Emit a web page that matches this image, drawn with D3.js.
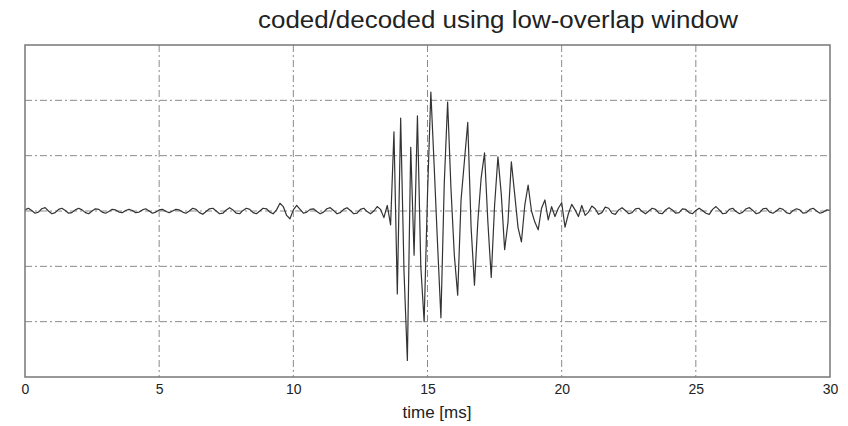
<!DOCTYPE html>
<html>
<head>
<meta charset="utf-8">
<script src="https://cdn.jsdelivr.net/npm/d3@7"></script>
<style>
  body { margin: 0; background: #fff; }
</style>
</head>
<body>
<div id="container"></div>
<script>
let dt = 0.125;
let signal = [
  0.02, 0.05, 0.01, -0.04, -0.02, 0.04, 0.06, 0.00,
  -0.05, -0.03, 0.03, 0.05, 0.01, -0.04, -0.03, 0.02,
  0.05, 0.02, -0.03, -0.05, 0.00, 0.04, 0.03, -0.02,
  -0.04, -0.01, 0.03, 0.02, -0.02, -0.03, 0.01, 0.03,
  0.01, -0.03, -0.02, 0.02, 0.04, 0.00, -0.04, -0.02,
  0.02, 0.03, -0.01, -0.03, 0.00, 0.03, 0.02, -0.02,
  -0.04, 0.00, 0.05, 0.03, -0.03, -0.06, -0.01, 0.04,
  0.05, 0.00, -0.05, -0.04, 0.02, 0.06, 0.02, -0.04,
  -0.05, 0.01, 0.05, 0.03, -0.03, -0.05, 0.00, 0.05,
  0.04, -0.02, -0.05, 0.02, 0.14, 0.08, -0.08, -0.14,
  0.02, 0.10, 0.03, -0.04, -0.02, 0.03, 0.04, -0.01,
  -0.05, -0.02, 0.04, 0.06, 0.01, -0.05, -0.03, 0.03,
  0.06, 0.01, -0.05, -0.04, 0.03, 0.05, -0.01, -0.05,
  0.00, 0.08, 0.03, -0.12, 0.10, -0.25, 1.43, -1.50,
  1.68, -1.10, -2.70, 1.15, -0.80, 1.72, -1.00, -2.00,
  0.30, 2.15, 0.80, -0.60, -1.93, 0.50, 1.97, 0.40,
  -0.80, -1.52, 0.20, 0.90, 1.60, -0.30, -1.34, -0.20,
  0.60, 1.05, -0.20, -1.20, 0.10, 0.98, 0.30, -0.70,
  -0.20, 0.89, 0.30, -0.30, -0.56, 0.10, 0.47, 0.00,
  -0.20, -0.34, 0.05, 0.20, -0.16, 0.08, -0.10, 0.05,
  0.15, -0.29, -0.05, 0.12, 0.02, -0.10, 0.10, -0.08,
  -0.02, 0.09, 0.04, -0.06, -0.03, 0.07, 0.05, -0.04,
  -0.06, 0.02, 0.06, 0.01, -0.05, -0.03, 0.04, 0.05,
  -0.01, -0.05, 0.00, 0.05, 0.03, -0.04, -0.05, 0.02,
  0.06, 0.02, -0.04, -0.03, 0.04, 0.03, -0.03, -0.05,
  0.01, 0.05, 0.01, -0.04, -0.06, 0.03, 0.08, 0.02,
  -0.05, -0.04, 0.03, 0.05, -0.01, -0.05, -0.02, 0.04,
  0.06, 0.01, -0.05, -0.03, 0.04, 0.05, -0.02, -0.04,
  0.00, 0.05, 0.03, -0.03, -0.05, 0.01, 0.04, 0.02,
  -0.04, -0.03, 0.03, 0.05, 0.00, -0.04, -0.02, 0.02,
  0.01
];
let xTicks = [0, 5, 10, 15, 20, 25, 30];
let yGrid = [-2, -1, 0, 1, 2];
let title = "coded/decoded using low-overlap window";
let xLabel = "time [ms]";

let w = 848;
let h = 426;
let padLeft = 25, padRight = 830, padTop = 45, padBottom = 377;

let viz = d3.select("#container")
  .append("svg")
    .attr("width", w)
    .attr("height", h)
    .style("font-family", "'Liberation Sans', Arial, sans-serif");

let xScale = d3.scaleLinear().domain([0, 30]).range([padLeft, padRight]);
let yScale = d3.scaleLinear().domain([-3, 3]).range([padBottom, padTop]);

// grid lines (dash-dot)
viz.append("g").selectAll("line")
  .data(xTicks.slice(1, -1))
  .join("line")
    .attr("x1", d => xScale(d)).attr("x2", d => xScale(d))
    .attr("y1", padTop).attr("y2", padBottom)
    .attr("stroke", "#8a8a8a")
    .attr("stroke-width", 1)
    .attr("stroke-dasharray", "7,3,2,3");

viz.append("g").selectAll("line")
  .data(yGrid)
  .join("line")
    .attr("x1", padLeft).attr("x2", padRight)
    .attr("y1", d => yScale(d)).attr("y2", d => yScale(d))
    .attr("stroke", "#8a8a8a")
    .attr("stroke-width", 1)
    .attr("stroke-dasharray", "7,3,2,3");

// the waveform
let line = d3.line()
  .x((d, i) => xScale(i * dt))
  .y(d => yScale(d));

viz.append("path")
  .datum(signal)
  .attr("d", line)
  .attr("fill", "none")
  .attr("stroke", "#333")
  .attr("stroke-width", 1.2)
  .attr("stroke-linejoin", "round");

// frame
viz.append("rect")
  .attr("x", padLeft).attr("y", padTop)
  .attr("width", padRight - padLeft).attr("height", padBottom - padTop)
  .attr("fill", "none")
  .attr("stroke", "#777")
  .attr("stroke-width", 1.5);

// x axis
let xAxis = d3.axisBottom(xScale).tickValues(xTicks).tickSize(0).tickPadding(7);
let xAxisGroup = viz.append("g").attr("transform", "translate(0," + padBottom + ")").call(xAxis);
xAxisGroup.select(".domain").remove();
xAxisGroup.selectAll("text")
  .attr("font-family", "'Liberation Sans', Arial, sans-serif")
  .attr("font-size", 14)
  .attr("fill", "#222");

viz.append("text")
  .text(xLabel)
  .attr("x", 437)
  .attr("y", 418)
  .attr("text-anchor", "middle")
  .attr("font-size", 17)
  .attr("fill", "#222");

viz.append("text")
  .text(title)
  .attr("x", 498)
  .attr("y", 28)
  .attr("text-anchor", "middle")
  .attr("font-size", 23)
  .attr("textLength", 480)
  .attr("lengthAdjust", "spacingAndGlyphs")
  .attr("fill", "#222");
</script>
</body>
</html>
